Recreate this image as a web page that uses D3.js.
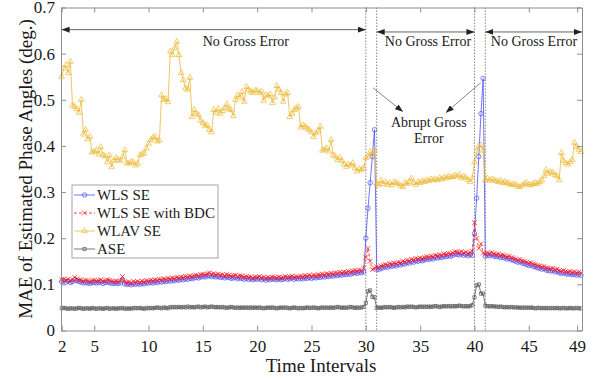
<!DOCTYPE html>
<html>
<head>
<meta charset="utf-8">
<script src="https://cdn.jsdelivr.net/npm/d3@7"></script>
<style>
  body { margin: 0; background: #fff; }
  svg { font-family: "Liberation Serif", "Times New Roman", serif; }
</style>
</head>
<body>
<script>
// samples every 0.2 interval, starting at interval 2 (5 values per interval)
const tStart = 2, tStep = 0.2;

const wlsSE = [
  0.106,0.108,0.105,0.107,0.104, 0.106,0.110,0.108,0.106,0.105, 0.103,0.104,0.103,0.102,0.104, // 2-4
  0.104,0.103,0.104,0.105,0.102, 0.104,0.105,0.104,0.102,0.102, 0.103,0.102,0.103,0.110,0.101, // 5-7
  0.100,0.101,0.099,0.101,0.100, 0.102,0.100,0.102,0.101,0.103, 0.103,0.104,0.103,0.105,0.104, // 8-10
  0.106,0.105,0.107,0.106,0.108, 0.107,0.109,0.108,0.110,0.109, 0.111,0.110,0.112,0.111,0.113, // 11-13
  0.112,0.114,0.115,0.114,0.116, 0.117,0.116,0.118,0.119,0.117, 0.118,0.116,0.117,0.115,0.116, // 14-16
  0.114,0.116,0.115,0.113,0.114, 0.115,0.112,0.114,0.113,0.111, 0.113,0.111,0.112,0.110,0.112, // 17-19
  0.111,0.113,0.110,0.112,0.109, 0.111,0.110,0.112,0.111,0.110, 0.112,0.110,0.111,0.113,0.111, // 20-22
  0.112,0.114,0.111,0.113,0.112, 0.113,0.112,0.114,0.113,0.115, 0.113,0.115,0.114,0.116,0.115, // 23-25
  0.117,0.116,0.118,0.117,0.119, 0.118,0.120,0.119,0.121,0.120, 0.122,0.121,0.123,0.122,0.124, // 26-28
  0.125,0.124,0.126,0.125,0.127, 0.200,0.265,0.320,0.377,0.435, 0.133,0.132,0.135,0.136,0.138, // 29-31
  0.137,0.140,0.139,0.141,0.140, 0.143,0.142,0.145,0.144,0.147, 0.146,0.149,0.148,0.151,0.150, // 32-34
  0.152,0.151,0.153,0.155,0.154, 0.156,0.155,0.158,0.157,0.159, 0.158,0.161,0.160,0.162,0.161, // 35-37
  0.163,0.166,0.165,0.164,0.166, 0.163,0.165,0.162,0.164,0.163, 0.210,0.287,0.377,0.470,0.546, // 38-40
  0.161,0.163,0.162,0.164,0.161, 0.160,0.161,0.158,0.159,0.157, 0.155,0.156,0.153,0.152,0.150, // 41-43
  0.148,0.149,0.146,0.145,0.143, 0.141,0.142,0.139,0.138,0.136, 0.135,0.133,0.134,0.131,0.130, // 44-46
  0.129,0.130,0.127,0.128,0.125, 0.124,0.125,0.123,0.122,0.123, 0.121,0.122,0.120,0.121,0.120  // 47-49
];

const wlsBDC = [
  0.110,0.112,0.109,0.111,0.108, 0.110,0.115,0.112,0.110,0.109, 0.107,0.109,0.108,0.106,0.108, // 2-4
  0.109,0.107,0.108,0.110,0.107, 0.108,0.110,0.109,0.107,0.106, 0.107,0.106,0.108,0.117,0.106, // 5-7
  0.104,0.105,0.103,0.106,0.105, 0.106,0.104,0.107,0.106,0.108, 0.107,0.109,0.108,0.110,0.109, // 8-10
  0.111,0.110,0.112,0.111,0.113, 0.112,0.114,0.113,0.115,0.114, 0.116,0.115,0.117,0.116,0.118, // 11-13
  0.117,0.119,0.120,0.119,0.121, 0.122,0.121,0.123,0.125,0.122, 0.123,0.121,0.122,0.120,0.121, // 14-16
  0.119,0.121,0.120,0.118,0.119, 0.120,0.117,0.119,0.118,0.116, 0.117,0.115,0.116,0.114,0.116, // 17-19
  0.115,0.117,0.114,0.116,0.113, 0.115,0.114,0.116,0.115,0.114, 0.116,0.114,0.115,0.117,0.115, // 20-22
  0.116,0.118,0.115,0.117,0.116, 0.118,0.117,0.119,0.118,0.120, 0.118,0.120,0.119,0.121,0.120, // 23-25
  0.122,0.121,0.123,0.122,0.124, 0.123,0.125,0.124,0.126,0.125, 0.127,0.126,0.128,0.127,0.129, // 26-28
  0.130,0.129,0.131,0.130,0.135, 0.158,0.178,0.150,0.132,0.135, 0.138,0.137,0.140,0.141,0.143, // 29-31
  0.142,0.145,0.144,0.146,0.145, 0.148,0.147,0.150,0.149,0.152, 0.151,0.154,0.153,0.156,0.155, // 32-34
  0.157,0.156,0.158,0.160,0.159, 0.161,0.160,0.163,0.162,0.164, 0.163,0.166,0.165,0.167,0.166, // 35-37
  0.168,0.171,0.170,0.169,0.171, 0.168,0.170,0.167,0.169,0.172, 0.234,0.200,0.178,0.188,0.168, // 38-40
  0.166,0.168,0.167,0.169,0.166, 0.165,0.166,0.163,0.164,0.162, 0.160,0.161,0.158,0.157,0.155, // 41-43
  0.153,0.154,0.151,0.150,0.148, 0.146,0.147,0.144,0.143,0.141, 0.140,0.138,0.139,0.136,0.135, // 44-46
  0.134,0.135,0.132,0.133,0.130, 0.129,0.130,0.128,0.127,0.128, 0.126,0.127,0.125,0.126,0.125  // 47-49
];

const wlavSE = [
  0.550,0.568,0.575,0.558,0.583, 0.488,0.485,0.480,0.472,0.500, 0.425,0.435,0.415,0.420,0.386, // 2-4
  0.388,0.390,0.382,0.398,0.380, 0.378,0.365,0.380,0.354,0.368, 0.374,0.370,0.368,0.376,0.391, // 5-7
  0.363,0.362,0.366,0.365,0.358, 0.362,0.380,0.382,0.384,0.395, 0.405,0.413,0.418,0.420,0.410, // 8-10
  0.412,0.510,0.500,0.502,0.495, 0.605,0.597,0.612,0.626,0.597, 0.558,0.543,0.525,0.522,0.548, // 11-13
  0.463,0.478,0.470,0.467,0.455, 0.450,0.443,0.445,0.435,0.430, 0.478,0.472,0.480,0.470,0.476, // 14-16
  0.482,0.490,0.480,0.478,0.465, 0.500,0.510,0.505,0.517,0.496, 0.528,0.522,0.518,0.515,0.520, // 17-19
  0.520,0.515,0.518,0.498,0.510, 0.508,0.512,0.493,0.505,0.530, 0.522,0.515,0.496,0.512,0.515, // 20-22
  0.463,0.470,0.478,0.482,0.485, 0.440,0.445,0.442,0.438,0.435, 0.430,0.420,0.428,0.432,0.442, // 23-25
  0.390,0.392,0.395,0.388,0.413, 0.380,0.377,0.370,0.374,0.368, 0.360,0.355,0.360,0.358,0.363, // 26-28
  0.352,0.345,0.350,0.348,0.352, 0.374,0.377,0.387,0.382,0.390, 0.318,0.315,0.325,0.318,0.322, // 29-31
  0.316,0.320,0.315,0.322,0.320, 0.318,0.314,0.311,0.320,0.318, 0.322,0.330,0.320,0.316,0.322, // 32-34
  0.320,0.324,0.322,0.326,0.324, 0.328,0.326,0.328,0.326,0.330, 0.328,0.332,0.330,0.334,0.332, // 35-37
  0.333,0.336,0.334,0.338,0.330, 0.334,0.332,0.326,0.322,0.330, 0.365,0.388,0.400,0.402,0.390, // 38-40
  0.326,0.330,0.325,0.328,0.326, 0.324,0.322,0.325,0.320,0.322, 0.320,0.318,0.315,0.318,0.316, // 41-43
  0.312,0.311,0.315,0.318,0.320, 0.316,0.315,0.318,0.320,0.318, 0.322,0.325,0.335,0.348,0.340, // 44-46
  0.344,0.342,0.337,0.335,0.326, 0.385,0.368,0.363,0.360,0.365, 0.370,0.407,0.398,0.392,0.387  // 47-49
];

const ase = [
  0.048,0.049,0.048,0.047,0.048, 0.048,0.047,0.048,0.049,0.048, 0.047,0.048,0.048,0.047,0.049, // 2-4
  0.048,0.047,0.048,0.048,0.047, 0.048,0.049,0.047,0.048,0.048, 0.047,0.048,0.048,0.049,0.047, // 5-7
  0.048,0.047,0.048,0.048,0.049, 0.048,0.049,0.048,0.047,0.049, 0.048,0.049,0.048,0.049,0.050, // 8-10
  0.049,0.048,0.050,0.049,0.048, 0.051,0.050,0.051,0.050,0.051, 0.050,0.051,0.050,0.052,0.050, // 11-13
  0.051,0.050,0.051,0.052,0.050, 0.051,0.052,0.050,0.051,0.052, 0.051,0.050,0.051,0.050,0.051, // 14-16
  0.050,0.049,0.050,0.051,0.050, 0.049,0.050,0.049,0.050,0.049, 0.050,0.049,0.050,0.049,0.050, // 17-19
  0.049,0.050,0.049,0.048,0.049, 0.050,0.049,0.050,0.049,0.048, 0.049,0.050,0.049,0.050,0.049, // 20-22
  0.048,0.049,0.050,0.049,0.048, 0.049,0.048,0.049,0.050,0.049, 0.049,0.050,0.049,0.048,0.049, // 23-25
  0.050,0.049,0.050,0.049,0.050, 0.049,0.050,0.051,0.050,0.049, 0.050,0.049,0.050,0.051,0.050, // 26-28
  0.049,0.050,0.049,0.050,0.051, 0.060,0.085,0.087,0.073,0.072, 0.049,0.050,0.049,0.050,0.051, // 29-31
  0.050,0.051,0.050,0.049,0.050, 0.051,0.050,0.051,0.050,0.052, 0.051,0.052,0.051,0.050,0.051, // 32-34
  0.052,0.051,0.052,0.051,0.052, 0.051,0.052,0.053,0.052,0.051, 0.052,0.053,0.052,0.053,0.052, // 35-37
  0.053,0.052,0.053,0.054,0.053, 0.052,0.053,0.052,0.053,0.055, 0.072,0.098,0.100,0.080,0.080, // 38-40
  0.054,0.053,0.052,0.053,0.052, 0.052,0.051,0.052,0.051,0.050, 0.051,0.050,0.051,0.050,0.050, // 41-43
  0.050,0.049,0.050,0.049,0.050, 0.049,0.050,0.049,0.048,0.049, 0.049,0.048,0.049,0.048,0.049, // 44-46
  0.048,0.049,0.048,0.049,0.048, 0.048,0.049,0.048,0.048,0.049, 0.048,0.048,0.049,0.048,0.048  // 47-49
];

const seriesNames = ['WLS SE', 'WLS SE with BDC', 'WLAV SE', 'ASE'];
const xTickValues = [2, 5, 10, 15, 20, 25, 30, 35, 40, 45, 49.45];
const xTickLabels = ['2', '5', '10', '15', '20', '25', '30', '35', '40', '45', '49'];
const yTickValues = [0, 0.1, 0.2, 0.3, 0.4, 0.5, 0.6, 0.7];
const errorBounds = [30, 31, 40, 41];

const W = 593, H = 379;
const svg = d3.select('body').append('svg').attr('width', W).attr('height', H);

const x = d3.scaleLinear().domain([1.94, 49.9]).range([61, 582]);
const y = d3.scaleLinear().domain([0, 0.7]).range([330.5, 7.5]);

const axisColor = '#8f8f8f';
const tVal = i => tStart + i * tStep;

// markers
const defs = svg.append('defs');
defs.append('marker')
    .attr('id', 'head')
    .attr('viewBox', '0 0 8 6')
    .attr('refX', 8).attr('refY', 3)
    .attr('markerWidth', 8).attr('markerHeight', 6)
    .attr('markerUnits', 'userSpaceOnUse')
    .attr('orient', 'auto-start-reverse')
  .append('path')
    .attr('d', 'M0,0 L8,3 L0,6 Z')
    .attr('fill', '#222');

// series config
const series = [
  { name: seriesNames[0], values: wlsSE,  color: '#4f4ff5', dash: null,  marker: 'circle' },
  { name: seriesNames[1], values: wlsBDC, color: '#ff1414', dash: '3,2', marker: 'x' },
  { name: seriesNames[2], values: wlavSE, color: '#eeb832', dash: null,  marker: 'triangle' },
  { name: seriesNames[3], values: ase,    color: '#555555', dash: null,  marker: 'square' }
];

function markerPath(type) {
  if (type === 'x') return 'M-2.4,-2.4L2.4,2.4M-2.4,2.4L2.4,-2.4';
  if (type === 'circle') return d3.symbol(d3.symbolCircle, 16)();
  if (type === 'triangle') return d3.symbol(d3.symbolTriangle, 14)();
  return d3.symbol(d3.symbolSquare, 10)();
}

// dotted boundaries
svg.append('g').selectAll('line')
  .data(errorBounds)
  .enter().append('line')
    .attr('x1', d => x(d)).attr('x2', d => x(d))
    .attr('y1', y(0.7)).attr('y2', y(0))
    .attr('stroke', '#555')
    .attr('stroke-width', 0.7)
    .attr('stroke-dasharray', '1.5,1.5');

// lines + markers
const line = d3.line().x((d, i) => x(tVal(i))).y(d => y(d));
series.forEach(s => {
  const g = svg.append('g');
  g.append('path')
    .attr('d', line(s.values))
    .attr('fill', 'none')
    .attr('stroke', s.color)
    .attr('stroke-width', 0.8)
    .attr('stroke-dasharray', s.dash);
  g.selectAll('path.m')
    .data(s.values)
    .enter().append('path')
      .attr('class', 'm')
      .attr('d', markerPath(s.marker))
      .attr('transform', (d, i) => 'translate(' + x(tVal(i)) + ',' + y(d) + ')')
      .attr('fill', 'none')
      .attr('stroke', s.color)
      .attr('stroke-width', 0.7);
});

// axes
function styleAxis(g, labels) {
  g.select('.domain').attr('stroke', axisColor);
  g.selectAll('.tick line').attr('stroke', axisColor);
  g.selectAll('.tick text')
    .attr('fill', '#1a1a1a')
    .attr('font-size', '17px')
    .attr('font-family', '"Liberation Serif", serif');
  if (!labels) g.selectAll('.tick text').remove();
}

svg.append('g')
  .attr('transform', 'translate(0,' + y(0) + ')')
  .call(d3.axisBottom(x).tickValues(xTickValues).tickFormat((d, i) => xTickLabels[i])
        .tickSizeInner(-5).tickSizeOuter(0).tickPadding(9))
  .call(g => styleAxis(g, true));

svg.append('g')
  .attr('transform', 'translate(0,' + y(0.7) + ')')
  .call(d3.axisTop(x).tickValues(xTickValues).tickSizeInner(-5).tickSizeOuter(0))
  .call(g => styleAxis(g, false));

svg.append('g')
  .attr('transform', 'translate(' + x.range()[0] + ',0)')
  .call(d3.axisLeft(y).tickValues(yTickValues).tickFormat(d => d === 0 ? '0' : d3.format('.1f')(d))
        .tickSizeInner(-5).tickSizeOuter(0).tickPadding(6))
  .call(g => styleAxis(g, true));

svg.append('g')
  .attr('transform', 'translate(' + x.range()[1] + ',0)')
  .call(d3.axisRight(y).tickValues(yTickValues).tickSizeInner(-5).tickSizeOuter(0))
  .call(g => styleAxis(g, false));

// axis titles
svg.append('text')
  .attr('x', 321).attr('y', 372)
  .attr('text-anchor', 'middle')
  .attr('font-size', '19px')
  .attr('fill', '#1a1a1a')
  .text('Time Intervals');

svg.append('text')
  .attr('transform', 'translate(32,169) rotate(-90)')
  .attr('text-anchor', 'middle')
  .attr('font-size', '19px')
  .attr('fill', '#1a1a1a')
  .text('MAE of Estimated Phase Angles (deg.)');

// annotations: no-error ranges
const ranges = [
  { from: 2,  to: 30,   yv: 0.652, label: 18.96 },
  { from: 31, to: 40,   yv: 0.647, label: 35.72 },
  { from: 41, to: 49.9, yv: 0.647, label: 45.48 }
];
ranges.forEach(r => {
  svg.append('line')
    .attr('x1', x(r.from)).attr('x2', x(r.to))
    .attr('y1', y(r.yv)).attr('y2', y(r.yv))
    .attr('stroke', '#222').attr('stroke-width', 0.7)
    .attr('marker-start', 'url(#head)')
    .attr('marker-end', 'url(#head)');
  svg.append('text')
    .attr('x', x(r.label)).attr('y', y(0.617))
    .attr('text-anchor', 'middle')
    .attr('font-size', '14px')
    .attr('fill', '#1a1a1a')
    .text('No Gross Error');
});

// abrupt gross error pointers
const pointers = [
  { t1: 30.66, v1: 0.526, t2: 33.42, v2: 0.474 },
  { t1: 40.58, v1: 0.537, t2: 37.36, v2: 0.472 }
];
pointers.forEach(p => {
  svg.append('line')
    .attr('x1', x(p.t1)).attr('y1', y(p.v1))
    .attr('x2', x(p.t2)).attr('y2', y(p.v2))
    .attr('stroke', '#333').attr('stroke-width', 0.6)
    .attr('marker-end', 'url(#head)');
});
svg.append('text')
  .attr('x', x(35.8)).attr('y', y(0.441))
  .attr('text-anchor', 'middle').attr('font-size', '14px').attr('fill', '#1a1a1a')
  .text('Abrupt Gross');
svg.append('text')
  .attr('x', x(35.8)).attr('y', y(0.406))
  .attr('text-anchor', 'middle').attr('font-size', '14px').attr('fill', '#1a1a1a')
  .text('Error');

// legend
const legend = svg.append('g').attr('transform', 'translate(72,185)');
legend.append('rect')
  .attr('width', 146).attr('height', 73)
  .attr('fill', '#fff')
  .attr('stroke', axisColor).attr('stroke-width', 0.8);
series.forEach((s, i) => {
  const cy = 10 + i * 18;
  legend.append('line')
    .attr('x1', 2).attr('x2', 23).attr('y1', cy).attr('y2', cy)
    .attr('stroke', s.color).attr('stroke-width', 0.8)
    .attr('stroke-dasharray', s.dash);
  legend.append('path')
    .attr('d', markerPath(s.marker))
    .attr('transform', 'translate(12.5,' + cy + ')')
    .attr('fill', 'none').attr('stroke', s.color).attr('stroke-width', 0.7);
  legend.append('text')
    .attr('x', 25).attr('y', cy + 5)
    .attr('font-size', '15px')
    .attr('fill', '#1a1a1a')
    .text(s.name);
});
</script>
</body>
</html>
